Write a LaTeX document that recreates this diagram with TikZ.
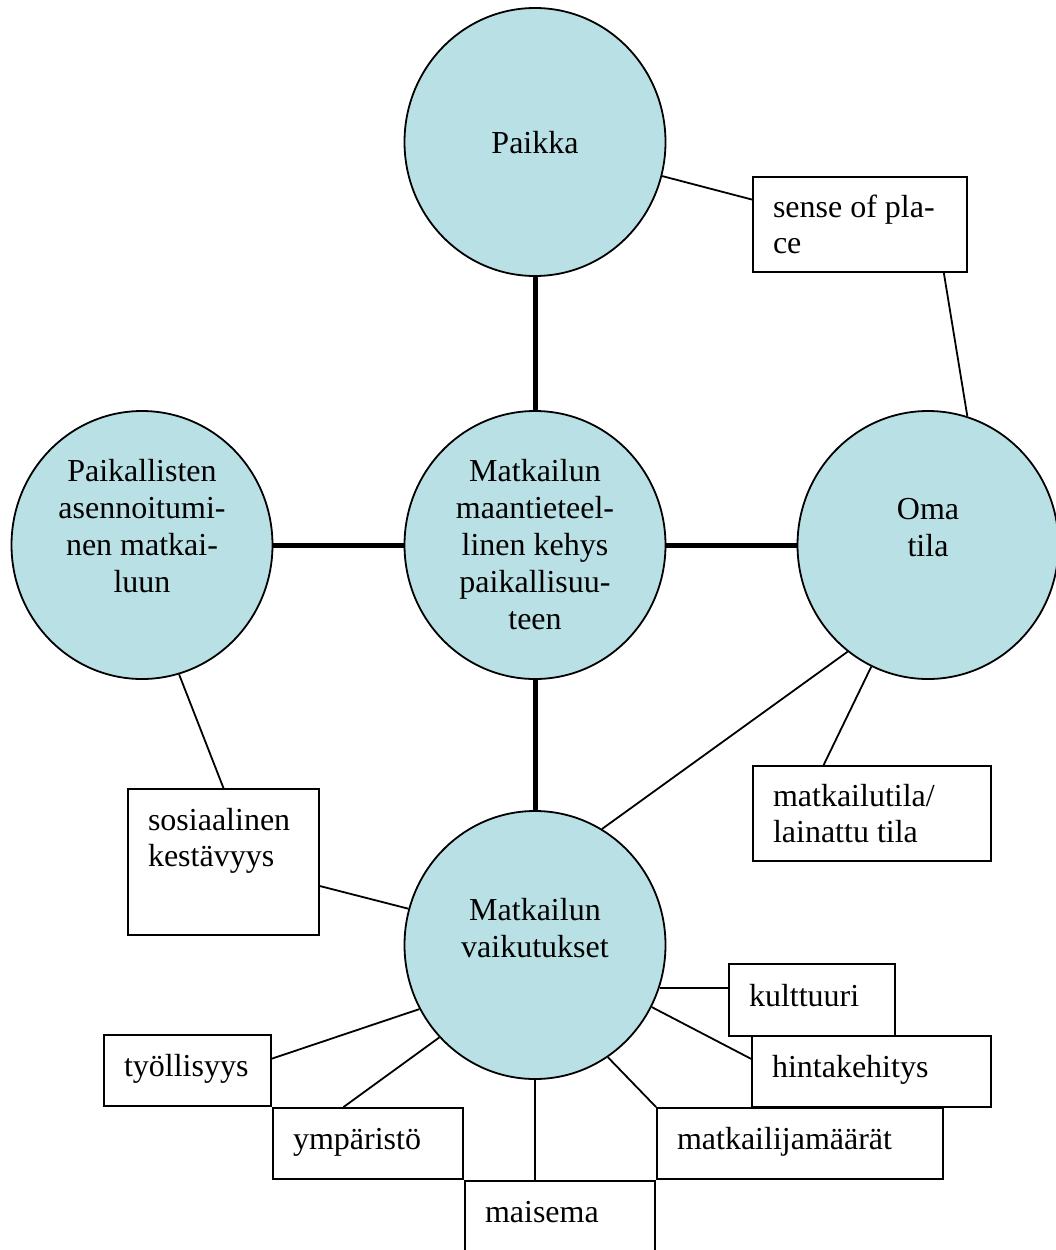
\documentclass[tikz,border=0pt]{standalone}
\usepackage{fontspec}
\setmainfont{Liberation Serif}
\usetikzlibrary{shapes.geometric}
\definecolor{turkoosi}{RGB}{185,224,228}

\begin{document}
\begin{tikzpicture}[x=1pt,y=-1pt,
    ympyra/.style={ellipse,draw,line width=1.8pt,fill=turkoosi,minimum width=261pt,minimum height=268pt,inner sep=0pt},
    teksti/.style={align=center,inner sep=0pt,font=\fontsize{32}{37}\selectfont},
    laatikko/.style={draw,line width=1.8pt,align=flush left,inner xsep=20pt,inner ysep=0pt,font=\fontsize{32}{36}\selectfont},
    rivi/.style={laatikko,text height=24pt,text depth=12pt},
    ohut/.style={line width=1.8pt},
    paksu/.style={line width=5pt}]
    \useasboundingbox (0,0) rectangle (1055,1250);
    \node[ympyra] (paikka) at (535,142) {};
    \node[ympyra] (kehys) at (535,545) {};
    \node[ympyra] (asenne) at (142,545) {};
    \node[ympyra] (omatila) at (928,545) {};
    \node[ympyra] (vaikutus) at (535,945) {};
    \draw[paksu] (paikka) -- (kehys);
    \draw[paksu] (kehys) -- (asenne);
    \draw[paksu] (kehys) -- (omatila);
    \draw[paksu] (kehys) -- (vaikutus);
    \node[teksti] (paikka-t) at (535,142.5) {Paikka};
    \node[teksti] (kehys-t) at (535,544.5) {Matkailun\\maantieteel-\\linen kehys\\paikallisuu-\\teen};
    \node[teksti] (asenne-t) at (142,526.5) {Paikallisten\\asennoitumi-\\nen matkai-\\luun};
    \node[teksti] (omatila-t) at (928,528) {Oma\\tila};
    \node[teksti] (vaikutus-t) at (535,928) {Matkailun\\vaikutukset};
    \node[laatikko,text width=174pt,minimum height=95pt] (sense) at (860,224.5) {sense of pla-\\ce};
    \node[laatikko,text width=198pt,minimum height=95pt] (lainattu) at (872,813.5) {matkailutila/\\lainattu tila};
    \node[laatikko,text width=151pt,minimum height=146pt,text depth=86pt] (kestavyys) at (223.5,862) {sosiaalinen\\kestävyys};
    \node[rivi,text width=199pt,minimum height=71pt] (hinta) at (871.5,1071.5) {hintakehitys};
    \node[rivi,text width=126pt,minimum height=72pt] (kulttuuri) at (812,1000) {kulttuuri};
    \node[rivi,text width=127pt,minimum height=71pt] (tyo) at (187.5,1070.5) {työllisyys};
    \node[rivi,text width=150pt,minimum height=71pt] (ymparisto) at (368,1143.5) {ympäristö};
    \node[rivi,text width=246pt,minimum height=71pt] (maarat) at (800,1143.5) {matkailijamäärät};
    \node[rivi,text width=150pt,minimum height=71pt] (maisema) at (560,1216.5) {maisema};
    \draw[ohut] (paikka.-15) -- (sense.167);
    \draw[ohut] (sense.-30) -- (omatila.73);
    \draw[ohut] (omatila.-127) -- (vaikutus.60);
    \draw[ohut] (omatila.-115) -- (lainattu.135);
    \draw[ohut] (asenne.-74) -- (kestavyys.north);
    \draw[ohut] (kestavyys.-14) -- (vaikutus.164);
    \draw[ohut] (vaikutus.-19) -- (vaikutus.-19 -| kulttuuri.west);
    \draw[ohut] (vaikutus.-28) -- (hinta.174);
    \draw[ohut] (vaikutus.-151) -- (tyo.8);
    \draw[ohut] (vaikutus.-136) -- (ymparisto.124);
    \draw[ohut] (vaikutus.south) -- (vaikutus.south |- maisema.north);
    \draw[ohut] (vaikutus.-57) -- (maarat.north west);
\end{tikzpicture}
\end{document}
